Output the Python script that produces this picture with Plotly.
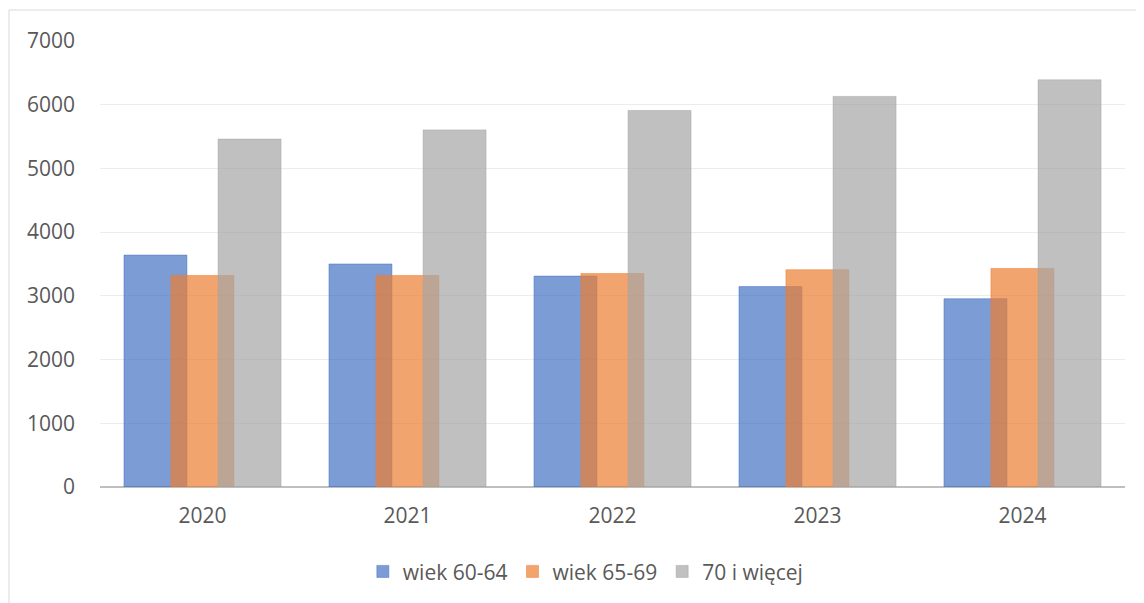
import plotly.graph_objects as go

years = ["2020", "2021", "2022", "2023", "2024"]
age_60_64 = [3640, 3500, 3310, 3145, 2955]
age_65_69 = [3320, 3320, 3350, 3410, 3430]
age_70_plus = [5460, 5605, 5910, 6130, 6390]

series = [
    ("wiek 60-64", age_60_64, "68,114,196", -0.383),
    ("wiek 65-69", age_65_69, "237,125,49", -0.154),
    ("70 i więcej", age_70_plus, "165,165,165", 0.076),
]

fig = go.Figure()
for name, vals, rgb, off in series:
    fig.add_trace(go.Bar(
        x=years, y=vals, name=name,
        marker=dict(color=f"rgba({rgb},0.7)", line=dict(width=1, color=f"rgba({rgb},0.5)")),
        width=0.307, offset=off,
    ))

# page body has an 8px margin, so margins are shifted to compensate
fig.update_layout(
    barmode="overlay",
    width=1144, height=603,
    margin=dict(l=92, r=27, t=33, b=124),
    paper_bgcolor="white", plot_bgcolor="white",
    font=dict(family="Open Sans, Liberation Sans, sans-serif", size=21, color="#595959"),
    xaxis=dict(showgrid=False, ticks="", ticklabelstandoff=14, automargin=False),
    yaxis=dict(range=[0, 7000], dtick=1000, gridcolor="#ececec", gridwidth=1,
               zeroline=True, zerolinecolor="#bfbfbf", zerolinewidth=2,
               ticks="", ticklabelstandoff=24, automargin=False),
    legend=dict(orientation="h", x=0.474, xanchor="center", y=-0.19, yanchor="middle",
                itemwidth=30, traceorder="normal", font=dict(size=21)),
    showlegend=True,
)

# outer chart border
fig.add_shape(type="rect", xref="paper", yref="paper",
              x0=-0.0888, x1=1.2, y0=-0.4, y1=1.0695,
              line=dict(color="#d9d9d9", width=1), layer="below")

fig.write_html("out.html")
